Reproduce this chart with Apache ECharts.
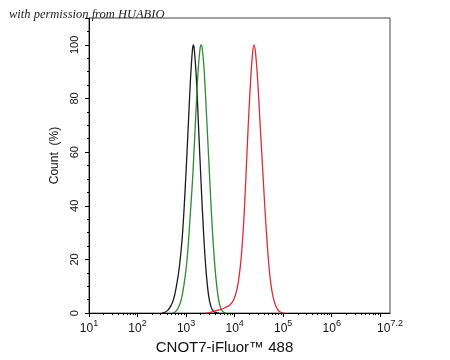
<!DOCTYPE html>
<html>
<head>
<meta charset="utf-8">
<script src="https://cdn.jsdelivr.net/npm/echarts@6/dist/echarts.min.js"></script>
<style>html,body{margin:0;padding:0;background:#fff}#c{width:450px;height:360px}</style>
</head>
<body>
<div id="c"></div>
<script>
// x values are log10(fluorescence intensity)
const blackCurve = [[2.50,0],[2.56,0.3],[2.62,1],[2.68,2.5],[2.74,5],[2.80,10],[2.86,17],[2.92,28],[2.98,46],[3.04,68],[3.09,87],[3.13,98],[3.15,100],[3.17,98],[3.21,88],[3.26,68],[3.31,48],[3.36,30],[3.41,16],[3.46,7],[3.51,2.5],[3.56,0.8],[3.62,0.2],[3.68,0]];
const greenCurve = [[2.72,0],[2.78,0.5],[2.84,2],[2.90,5],[2.96,11],[3.02,20],[3.08,35],[3.14,52],[3.20,74],[3.25,91],[3.29,99],[3.31,100],[3.33,99],[3.37,91],[3.42,74],[3.47,56],[3.52,38],[3.57,23],[3.62,12],[3.67,5],[3.72,1.5],[3.77,0.3],[3.82,0]];
const redCurve = [[3.40,0],[3.50,0.3],[3.60,0.8],[3.70,1.3],[3.80,2],[3.90,3],[3.98,5],[4.05,9],[4.12,18],[4.18,32],[4.23,50],[4.28,70],[4.33,87],[4.37,97],[4.40,100],[4.43,97],[4.47,88],[4.52,72],[4.57,56],[4.62,40],[4.67,26],[4.72,15],[4.77,8],[4.83,3.5],[4.89,1.2],[4.95,0.3],[5.02,0]];
const xLabelExps = [1,2,3,4,5,6,7.2];
const xMajorTicks = [1,2,3,4,5,6,7];
const yTicks = [0,20,40,60,80,100];

const minorTicks = [];
for (let d = 1; d < 7.2; d++) for (let k = 2; k <= 9; k++) { const v = d + Math.log10(k); if (v < 7.2) minorTicks.push(v); }

const FONT = '"Liberation Sans Narrow","Arial Narrow","Liberation Sans",Arial,sans-serif';
const chart = echarts.init(document.getElementById('c'), null, {renderer:'canvas'});
chart.setOption({
  animation: false,
  backgroundColor: '#fff',
  grid: {left: 89, right: 60, top: 18, bottom: 42, show: true, borderColor: '#444', borderWidth: 1},
  xAxis: [{
    type: 'value', min: 1, max: 7.2,
    axisLine: {lineStyle: {color: '#000', width: 1}},
    splitLine: {show: false},
    axisTick: {show: true, customValues: xMajorTicks, length: 4, lineStyle: {color: '#000'}},
    axisLabel: {
      customValues: xLabelExps, margin: 6, fontFamily: FONT, color: '#111',
      formatter: v => '{b|10}{s|' + v + '}',
      rich: {b: {fontSize: 12, fontFamily: FONT, color: '#111', verticalAlign: 'bottom'},
             s: {fontSize: 9, fontFamily: FONT, color: '#111', verticalAlign: 'bottom', padding: [0,0,7,0]}}
    },
    name: 'CNOT7-iFluor™ 488', nameLocation: 'middle', nameGap: 19,
    nameTextStyle: {fontSize: 15, fontFamily: FONT, color: '#111', padding: [0, 30, 0, 0], verticalAlign: 'top'}
  }, {
    type: 'value', min: 1, max: 7.2, position: 'bottom',
    axisLine: {show: false}, splitLine: {show: false}, axisLabel: {show: false},
    axisTick: {show: true, customValues: minorTicks, length: 2, lineStyle: {color: '#000'}}
  }],
  yAxis: {
    type: 'value', min: 0, max: 110, interval: 20,
    axisLine: {show: true, lineStyle: {color: '#000', width: 1}},
    splitLine: {show: false},
    axisTick: {show: true, length: 4, lineStyle: {color: '#000'}},
    minorTick: {show: true, splitNumber: 4, length: 2, lineStyle: {color: '#000'}},
    axisLabel: {rotate: 90, margin: 9, fontSize: 11, fontFamily: FONT, color: '#111', showMaxLabel: false,
      formatter: v => yTicks.indexOf(v) >= 0 ? String(v) : ''},
    name: 'Count  (%)', nameLocation: 'middle', nameGap: 26, nameRotate: 90,
    nameTextStyle: {fontSize: 12, fontFamily: FONT, color: '#111', padding: [0, 0, 0, 20]}
  },
  series: [
    {type: 'line', data: blackCurve, smooth: 0.4, symbol: 'none', lineStyle: {color: '#1a1a1a', width: 1.3}},
    {type: 'line', data: greenCurve, smooth: 0.4, symbol: 'none', lineStyle: {color: '#2f8a34', width: 1.3}},
    {type: 'line', data: redCurve, smooth: 0.4, symbol: 'none', lineStyle: {color: '#dd2c3a', width: 1.3}}
  ],
  graphic: [{
    type: 'text', left: 9, top: 8, z: 100,
    style: {text: 'with permission from HUABIO', font: 'italic 12.5px "Liberation Serif","DejaVu Serif",serif', fill: '#222'}
  }]
});
</script>
</body>
</html>
